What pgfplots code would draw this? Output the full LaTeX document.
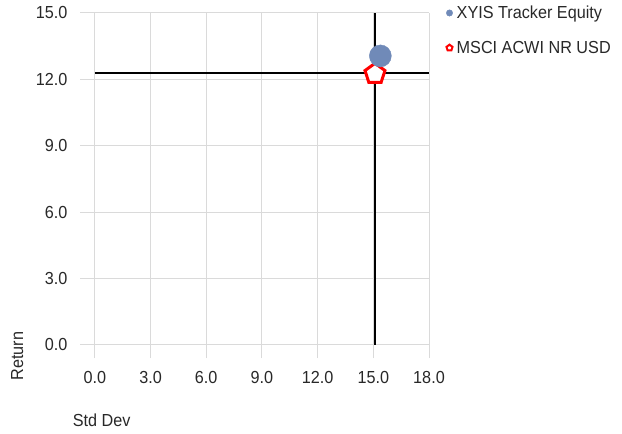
\documentclass[border=0pt]{standalone}
\usepackage{fontspec}
\setmainfont[FakeStretch=0.93]{Liberation Sans}
\usepackage{pgfplots}
\pgfplotsset{compat=1.18}

\definecolor{fundblue}{RGB}{112,138,184}
\definecolor{gridgray}{RGB}{218,218,218}
\definecolor{txt}{RGB}{40,40,40}

\begin{document}
\begin{tikzpicture}[font=\fontsize{17.5}{20}\selectfont, text=txt]
  \useasboundingbox (0,0) rectangle (622bp,434bp);
  \begin{axis}[
      at={(80bp,76bp)}, anchor=south west,
      scale only axis,
      width=349bp, height=345bp,
      xmin=-0.8, xmax=18,
      ymin=-0.6, ymax=15,
      xtick={0,3,...,18},
      ytick={0,3,...,15},
      axis line style={draw=none},
      major tick length=0pt,
      grid=major,
      major grid style={gridgray, line width=1pt},
      /pgf/number format/assume math mode=true,
      /pgf/number format/fixed,
      /pgf/number format/fixed zerofill,
      /pgf/number format/precision=1,
      xticklabel style={yshift=-10bp},
      yticklabel style={xshift=-9bp},
      xlabel={Std Dev},
      ylabel={Return},
      xlabel style={at={(axis description cs:0.062,-0.18)}, anchor=center},
      ylabel style={at={(axis description cs:-0.18,0.006)}, anchor=center},
      legend style={at={(axis description cs:1.049,1.024)}, anchor=north west,
        draw=none, fill=none, inner sep=0pt, row sep=19bp, column sep=3bp,
        nodes={inner sep=1pt, text=txt}},
      legend cell align=left,
      legend image code/.code={\draw[#1] plot coordinates {(0.1cm,0cm)};},
      clip=false,
    ]
    % benchmark crosshair
    \addplot[forget plot, black, line width=1.5pt] coordinates {(0,12.29) (18,12.29)};
    \addplot[forget plot, black, line width=1.5pt] coordinates {(15.09,0) (15.09,15)};
    % benchmark
    \addplot[forget plot, only marks, mark=pentagon*, mark size=10.5bp,
      mark options={draw=red, fill=white, line width=3pt}] coordinates {(15.09,12.25)};
    % fund
    \addplot[forget plot, only marks, mark=*, mark size=11bp, fundblue,
      mark options={draw=fundblue, fill=fundblue}] coordinates {(15.38,13.06)};
    \addlegendimage{only marks, mark=*, mark size=3.2bp, fundblue, mark options={fill=fundblue}}
    \addlegendentry{XYIS Tracker Equity}
    \addlegendimage{only marks, mark=pentagon*, mark size=3.2bp, mark options={draw=red, fill=white, line width=2pt}}
    \addlegendentry{MSCI ACWI NR USD}
  \end{axis}
\end{tikzpicture}
\end{document}
